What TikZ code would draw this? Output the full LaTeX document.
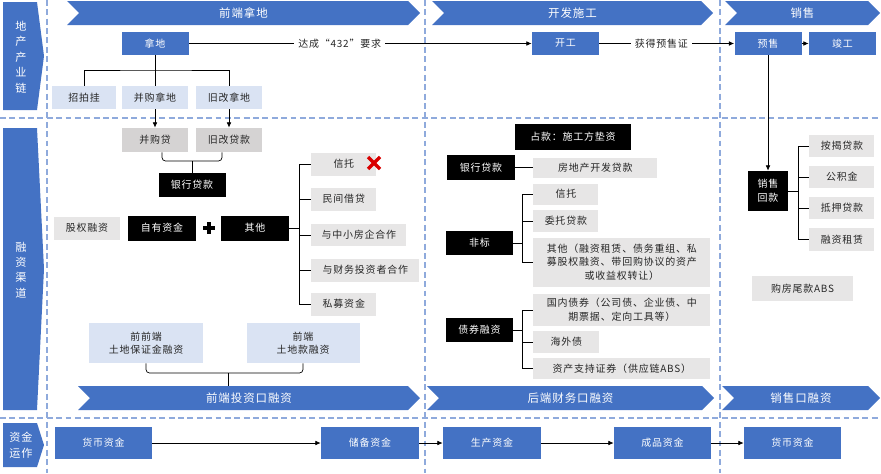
\documentclass[tikz,border=0pt]{standalone}
\usepackage{fontspec}
\setmainfont{Noto Sans CJK SC}[LetterSpace=8]
\usetikzlibrary{arrows.meta}

\definecolor{lanse}{HTML}{4472C4}
\definecolor{qianlan}{HTML}{DAE3F3}
\definecolor{huise}{HTML}{E7E6E6}
\definecolor{shenhui}{HTML}{D5D3D3}
\definecolor{xuxianse}{HTML}{8FAADC}
\definecolor{wenzi}{HTML}{262626}

\newcommand{\zihao}{\fontsize{8.5}{11.6}\selectfont}
\newcommand{\dazi}{\fontsize{9.8}{12}\selectfont}
\newcommand{\biaozi}{\fontsize{9.5}{13.2}\selectfont}

\tikzset{
  lankuang/.style={fill=lanse, text=white, inner sep=0pt, align=center, minimum height=0.69cm, font=\zihao},
  qiankuang/.style={fill=qianlan, text=wenzi, inner sep=0pt, align=center, minimum height=0.69cm, font=\zihao},
  huikuang/.style={fill=huise, text=wenzi, inner sep=0pt, align=center, minimum height=0.66cm, font=\zihao},
  heikuang/.style={fill=black, text=white, inner sep=0pt, align=center, minimum height=0.72cm, font=\zihao},
  hengfu/.style={text=white, inner sep=0pt, minimum height=0.72cm, font=\dazi},
  biaoqian/.style={text=white, inner sep=0pt, align=center, font=\biaozi},
  jiantou/.style={-{Latex[length=1.6mm,width=1.4mm]}},
  xuxian/.style={draw=xuxianse, line width=0.9pt, dash pattern=on 5pt off 3pt},
}

\begin{document}
\begin{tikzpicture}[x=0.03cm, y=-0.03cm, semithick]
  \useasboundingbox (0,0) rectangle (881,473);

  % 画虚线分隔
  \draw[xuxian] (0,118) -- (881,118);
  \draw[xuxian] (0,418) -- (881,418);
  \draw[xuxian] (47,0) -- (47,473);
  \draw[xuxian] (425,0) -- (425,473);
  \draw[xuxian] (720,0) -- (720,473);

  % 左侧标签
  \fill[lanse] (3,2) -- (37,2) -- (44,56) -- (37,110) -- (3,110) -- cycle;
  \node[biaoqian] (chanyelian) at (21,57) {地\\产\\产\\业\\链};
  \fill[lanse] (3,128) -- (37,128) -- (44,269) -- (37,410) -- (3,410) -- cycle;
  \node[biaoqian] (qudao) at (21,270) {融\\资\\渠\\道};
  \fill[lanse] (3,423) -- (37,423) -- (44,445) -- (37,467) -- (3,467) -- cycle;
  \node[biaoqian] (yunzuo) at (21,445) {资金\\运作};

  % 上方阶段
  \fill[lanse] (67,1) -- (408,1) -- (420,13) -- (408,25) -- (67,25) -- (79,13) -- cycle;
  \node[hengfu] (nadiduan) at (243.5,13) {前端拿地};
  \fill[lanse] (432,1) -- (701,1) -- (713,13) -- (701,25) -- (432,25) -- (444,13) -- cycle;
  \node[hengfu] (kaifa) at (572.5,13) {开发施工};
  \fill[lanse] (725,1) -- (868,1) -- (880,13) -- (868,25) -- (725,25) -- (737,13) -- cycle;
  \node[hengfu] (xiaoshou) at (802.5,13) {销售};

  % 下方阶段
  \fill[lanse] (78,386) -- (408,386) -- (420,398) -- (408,410) -- (78,410) -- (90,398) -- cycle;
  \node[hengfu] (touzi) at (249,398) {前端投资口融资};
  \fill[lanse] (427,386) -- (702,386) -- (714,398) -- (702,410) -- (427,410) -- (439,398) -- cycle;
  \node[hengfu] (caiwukou) at (570.5,398) {后端财务口融资};
  \fill[lanse] (722,386) -- (868,386) -- (880,398) -- (868,410) -- (722,410) -- (734,398) -- cycle;
  \node[hengfu] (xiaoshoukou) at (801,398) {销售口融资};

  % 产业链
  \node[lankuang, minimum width=2.01cm] (nadi) at (155,43.5) {拿地};
  \node[lankuang, minimum width=2.01cm] (kaigong) at (565.5,43.5) {开工};
  \node[lankuang, minimum width=2.01cm] (yushou) at (768,43.5) {预售};
  \node[lankuang, minimum width=2.01cm] (jungong) at (842.5,43.5) {竣工};
  \draw[jiantou] (nadi) -- node[pos=0.44, fill=white, font=\zihao, text=wenzi] (dacheng) {达成“432”要求} (kaigong);
  \draw[jiantou] (kaigong) -- node[pos=0.46, fill=white, font=\zihao, text=wenzi] (huode) {获得预售证} (yushou);
  \draw[jiantou] (yushou) -- (jungong);

  \node[qiankuang, minimum width=1.92cm] (zhaopaigua) at (84,97.5) {招拍挂};
  \node[qiankuang, minimum width=1.98cm] (binggou) at (155,97.5) {并购拿地};
  \node[qiankuang, minimum width=1.98cm] (jiugai) at (229,97.5) {旧改拿地};
  \coordinate (fen1) at (155,70);
  \draw (nadi) -- (binggou);
  \draw (zhaopaigua.north) |- (fen1) -| (jiugai.north);

  % 前端融资
  \node[huikuang, fill=shenhui, minimum width=1.98cm, minimum height=0.72cm] (binggoudai) at (155,140) {并购贷};
  \node[huikuang, fill=shenhui, minimum width=1.98cm, minimum height=0.72cm] (jiugaidai) at (229,140) {旧改贷款};
  \draw[jiantou] (binggou) -- (binggoudai);
  \draw[jiantou] (jiugai) -- (jiugaidai);
  \node[heikuang, minimum width=2.01cm] (yinhang1) at (192,185) {银行贷款};
  \coordinate (kuo1) at (192,161);
  \draw[rounded corners=3pt] ([xshift=0.21cm]binggoudai.south) |- (kuo1) -| ([xshift=-0.21cm]jiugaidai.south);
  \draw (kuo1) -- (yinhang1);

  \node[huikuang, minimum width=1.95cm, minimum height=0.69cm] (guquan) at (87,228) {股权融资};
  \node[heikuang, minimum width=2.04cm, minimum height=0.75cm] (ziyou) at (162,228) {自有资金};
  \draw[line width=3pt] (203,228) -- (215,228) (209,222) -- (209,234);
  \node[heikuang, minimum width=2.04cm, minimum height=0.75cm] (qita) at (255,228) {其他};

  \node[huikuang, anchor=west, minimum width=1.95cm, minimum height=0.69cm] (xintuo1) at (311,164) {信托};
  \node[huikuang, anchor=west, minimum width=1.95cm, minimum height=0.69cm] (minjian) at (311,199) {民间借贷};
  \node[huikuang, anchor=west, minimum width=2.85cm] (zhongxiao) at (311,235) {与中小房企合作};
  \node[huikuang, anchor=west, minimum width=3.24cm, minimum height=0.69cm] (caiwu) at (311,270) {与财务投资者合作};
  \node[huikuang, anchor=west, minimum width=1.95cm, minimum height=0.69cm] (simu) at (311,304) {私募资金};
  \coordinate (shu1) at (299,228);
  \draw (qita) -- (shu1);
  \draw (shu1 |- xintuo1.west) -- (shu1 |- simu.west);
  \foreach \n in {xintuo1, minjian, zhongxiao, caiwu, simu}
    \draw (shu1 |- \n.west) -- (\n.west);
  % 红叉
  \draw[red!85!black, line width=2.8pt] (368,157) -- (380,169) (368,169) -- (380,157);

  \node[qiankuang, minimum width=3.42cm, minimum height=1.2cm] (qianqianduan) at (146,343) {前前端\\土地保证金融资};
  \node[qiankuang, minimum width=3.39cm, minimum height=1.2cm] (qianduan) at (303,343) {前端\\土地款融资};
  \coordinate (kuo2) at (228,373);
  \draw[rounded corners=3pt] (qianqianduan.south) |- (kuo2) -| (qianduan.south);
  \draw (kuo2) -- (kuo2 |- touzi.north);

  % 后端融资
  \node[heikuang, minimum width=3.48cm, minimum height=0.78cm] (zhankuan) at (573,137) {占款：施工方垫资};
  \node[heikuang, minimum width=2.04cm, minimum height=0.75cm] (yinhang2) at (481,167.5) {银行贷款};
  \node[huikuang, anchor=west, minimum width=3.72cm, minimum height=0.6cm] (kaifadai) at (533,167.5) {房地产开发贷款};
  \draw (yinhang2) -- (kaifadai);

  \node[heikuang, minimum width=2.01cm] (feibiao) at (479.5,243) {非标};
  \node[huikuang, anchor=west, minimum width=1.95cm, minimum height=0.63cm] (xintuo2) at (533,194) {信托};
  \node[huikuang, anchor=west, minimum width=1.95cm] (weituo) at (533,221) {委托贷款};
  \node[huikuang, anchor=west, minimum width=5.31cm, minimum height=1.47cm] (qita2) at (533,262) {其他（融资租赁、债务重组、私\\募股权融资、带回购协议的资产\\或收益权转让）};
  \coordinate (shu2) at (522,243);
  \draw (feibiao) -- (shu2);
  \draw (shu2 |- xintuo2.west) -- (shu2 |- qita2.west);
  \foreach \n in {xintuo2, weituo, qita2}
    \draw (shu2 |- \n.west) -- (\n.west);

  \node[heikuang, minimum width=2.01cm] (zhaiquan) at (479.5,330) {债券融资};
  \node[huikuang, anchor=west, minimum width=5.31cm, minimum height=0.96cm] (guonei) at (533,310) {国内债券（公司债、企业债、中\\期票据、定向工具等）};
  \node[huikuang, anchor=west, minimum width=1.98cm] (haiwai) at (533,342) {海外债};
  \node[huikuang, anchor=west, minimum width=5.31cm, minimum height=0.63cm] (zichan) at (533,368.5) {资产支持证券（供应链ABS）};
  \coordinate (shu3) at (522,330);
  \draw (zhaiquan) -- (shu3);
  \draw (shu3 |- guonei.west) -- (shu3 |- zichan.west);
  \foreach \n in {guonei, haiwai, zichan}
    \draw (shu3 |- \n.west) -- (\n.west);

  % 销售融资
  \node[heikuang, minimum width=1.2cm, minimum height=1.2cm] (huikuan) at (768,191) {销售\\回款};
  \draw[jiantou] (yushou) -- (huikuan);
  \node[huikuang, anchor=west, minimum width=1.95cm] (anjie) at (809,146) {按揭贷款};
  \node[huikuang, anchor=west, minimum width=1.95cm] (gongjijin) at (809,177) {公积金};
  \node[huikuang, anchor=west, minimum width=1.95cm] (diya) at (809,208) {抵押贷款};
  \node[huikuang, anchor=west, minimum width=1.95cm, minimum height=0.69cm] (zulin) at (809,239.5) {融资租赁};
  \coordinate (shu4) at (798,191);
  \draw (huikuan) -- (shu4);
  \draw (shu4 |- anjie.west) -- (shu4 |- zulin.west);
  \foreach \n in {anjie, gongjijin, diya, zulin}
    \draw (shu4 |- \n.west) -- (\n.west);
  \node[huikuang, minimum width=3.03cm, minimum height=0.75cm] (weikuan) at (802.5,288.5) {购房尾款ABS};

  % 资金运作
  \node[lankuang, minimum width=2.91cm, minimum height=0.96cm] (huobi1) at (103.5,443) {货币资金};
  \node[lankuang, minimum width=2.94cm, minimum height=0.96cm] (chubei) at (370,443) {储备资金};
  \node[lankuang, minimum width=2.94cm, minimum height=0.96cm] (shengchan) at (492,443) {生产资金};
  \node[lankuang, minimum width=2.91cm, minimum height=0.96cm] (chengpin) at (662.5,443) {成品资金};
  \node[lankuang, minimum width=2.91cm, minimum height=0.96cm] (huobi2) at (792.5,443) {货币资金};
  \foreach \a/\b in {huobi1/chubei, chubei/shengchan, shengchan/chengpin, chengpin/huobi2}
    \draw[jiantou] (\a) -- (\b);

\end{tikzpicture}
\end{document}
